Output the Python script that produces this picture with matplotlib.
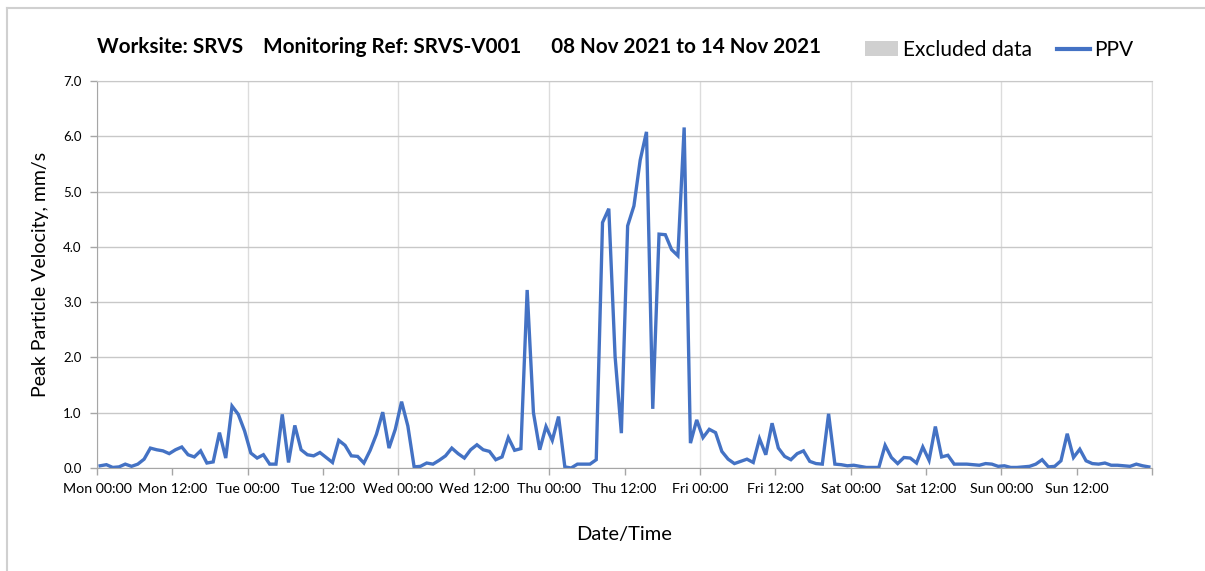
import matplotlib
matplotlib.use("Agg")
from matplotlib import pyplot as plt
import matplotlib.dates as mdates
from matplotlib.lines import Line2D
from matplotlib.patches import Patch
import pandas as pd

plt.rcParams['font.family'] = ['Lato', 'DejaVu Sans']

# hourly PPV readings, 08 Nov 2021 00:30 onwards (mm/s)
ppv = [
    0.04, 0.06, 0.01, 0.02, 0.07, 0.03, 0.07, 0.16, 0.36, 0.33, 0.31, 0.26,
    0.33, 0.38, 0.24, 0.20, 0.31, 0.09, 0.11, 0.64, 0.18, 1.12, 0.97, 0.67,
    0.27, 0.18, 0.24, 0.07, 0.07, 0.97, 0.10, 0.77, 0.33, 0.24, 0.22, 0.28,
    0.19, 0.10, 0.50, 0.41, 0.22, 0.21, 0.09, 0.32, 0.61, 1.01, 0.36, 0.70,
    1.20, 0.76, 0.02, 0.03, 0.09, 0.07, 0.14, 0.22, 0.36, 0.26, 0.18, 0.33,
    0.42, 0.33, 0.30, 0.15, 0.20, 0.55, 0.32, 0.35, 3.22, 1.00, 0.33, 0.75,
    0.50, 0.93, 0.02, 0.00, 0.07, 0.07, 0.07, 0.15, 4.44, 4.69, 2.02, 0.63,
    4.38, 4.74, 5.57, 6.08, 1.07, 4.23, 4.22, 3.95, 3.84, 6.16, 0.45, 0.87,
    0.55, 0.70, 0.64, 0.30, 0.16, 0.08, 0.12, 0.16, 0.10, 0.53, 0.24, 0.81,
    0.36, 0.21, 0.15, 0.26, 0.31, 0.12, 0.08, 0.07, 0.98, 0.07, 0.06, 0.04,
    0.05, 0.03, 0.01, 0.01, 0.01, 0.41, 0.19, 0.08, 0.19, 0.18, 0.09, 0.38,
    0.14, 0.75, 0.20, 0.23, 0.07, 0.07, 0.07, 0.06, 0.05, 0.08, 0.07, 0.03,
    0.04, 0.01, 0.01, 0.02, 0.03, 0.07, 0.15, 0.02, 0.03, 0.13, 0.62, 0.19,
    0.34, 0.13, 0.08, 0.07, 0.09, 0.05, 0.05, 0.04, 0.03, 0.07, 0.04, 0.02,
]
times = pd.date_range("2021-11-08 00:30", periods=len(ppv), freq="h")

start = pd.Timestamp("2021-11-08")
end = pd.Timestamp("2021-11-15")
title = "Worksite: SRVS    Monitoring Ref: SRVS-V001      08 Nov 2021 to 14 Nov 2021"

fig = plt.figure(figsize=(12.05, 5.71), dpi=100)
ax = fig.add_axes([97 / 1205, 1 - 468 / 571, 1055 / 1205, 387 / 571])

ax.plot(times, ppv, color='#4472C4', linewidth=2.4, solid_joinstyle='miter')

ax.set_xlim(start, end)
ax.set_ylim(0, 7)
ax.set_yticks([0, 1, 2, 3, 4, 5, 6, 7])
ax.set_yticklabels(["%.1f" % v for v in range(8)])

# days as major ticks (with grid), midday as minor ticks
ax.xaxis.set_major_locator(mdates.DayLocator())
ax.xaxis.set_minor_locator(mdates.HourLocator(byhour=[12]))
ax.xaxis.set_major_formatter(mdates.DateFormatter('%a %H:%M'))
ax.xaxis.set_minor_formatter(mdates.DateFormatter('%a %H:%M'))
ax.tick_params(axis='x', which='both', length=5, width=1, color='#a6a6a6',
               labelsize=10.3, pad=6)
ax.tick_params(axis='y', length=5, width=1, color='#a6a6a6', labelsize=9.5, pad=6)
# hide the label for the closing Monday
ax.xaxis.get_major_ticks()[-1].label1.set_visible(False)

ax.grid(axis='y', color='#c8c8c8', linewidth=1)
ax.grid(axis='x', which='major', color='#dcdcdc', linewidth=1)
ax.set_axisbelow(True)

for s in ['left', 'bottom']:
    ax.spines[s].set_color('#a6a6a6')
ax.spines['right'].set_color('#dcdcdc')
ax.spines['top'].set_color('#c8c8c8')

ax.set_ylabel("Peak Particle Velocity, mm/s", fontsize=14, labelpad=10)
ax.set_xlabel("Date/Time", fontsize=14.5, labelpad=22)

fig.text(97 / 1205, 1 - 47 / 571, title, fontsize=14.9, fontweight='bold',
         ha='left', va='center')

handles = [Patch(facecolor='#d0d0d0', edgecolor='none'),
           Line2D([], [], color='#4472C4', linewidth=3)]
fig.legend(handles, ["Excluded data", "PPV"], loc='center right',
           bbox_to_anchor=(1152 / 1205, 1 - 50 / 571), ncol=2, frameon=False,
           fontsize=15, handlelength=1.6, handletextpad=0.2, columnspacing=1.2)

# outer chart frame
fig.add_artist(Line2D([7 / 1205, 1], [1 - 8 / 571, 1 - 8 / 571],
                      color='#d0d0d0', linewidth=1.5, transform=fig.transFigure))
fig.add_artist(Line2D([7 / 1205, 7 / 1205], [0, 1 - 8 / 571],
                      color='#d0d0d0', linewidth=1.5, transform=fig.transFigure))

fig.savefig("out.png", dpi=100)
